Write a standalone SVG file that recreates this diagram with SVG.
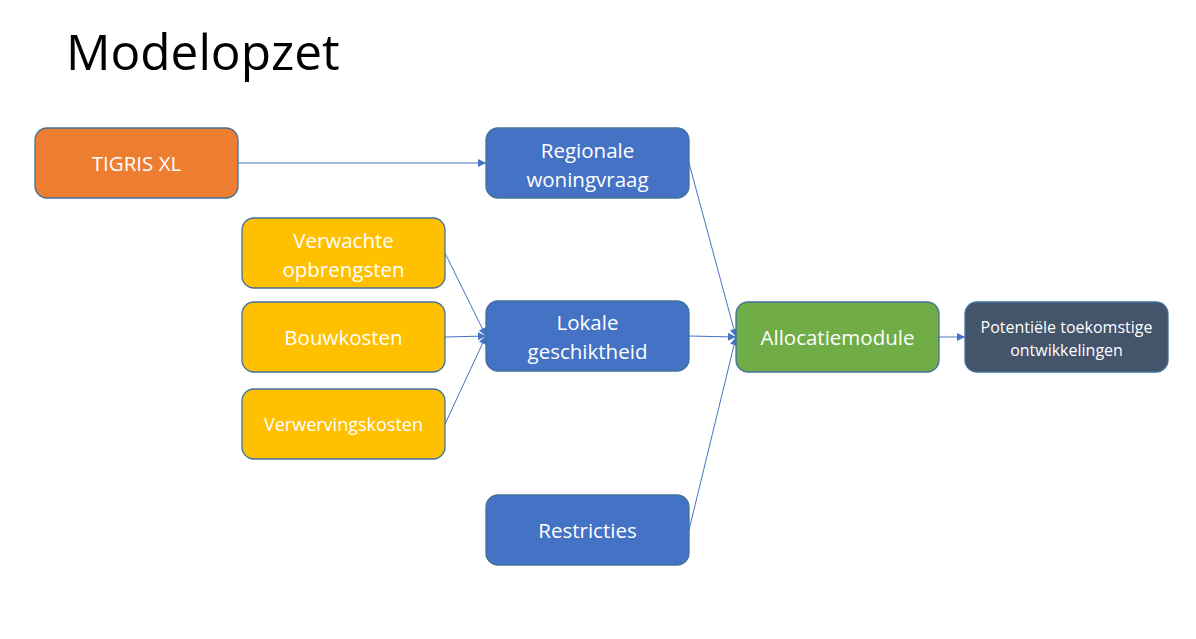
<svg xmlns="http://www.w3.org/2000/svg" width="1196" height="639" viewBox="0 0 1196 639">
<style>
.box{stroke:#41719C;stroke-width:1.3}
.t{font-family:"Open Sans","Liberation Sans",sans-serif;font-size:20.5px;fill:#fff;text-anchor:middle}
.s{font-size:16px}
.c{stroke:#4472C4;stroke-width:1;fill:none;marker-end:url(#ah)}
</style>
<defs>
<marker id="ah" viewBox="0 0 10 10" refX="10" refY="5" markerWidth="10" markerHeight="8" markerUnits="userSpaceOnUse" orient="auto">
<path d="M0,0 L10,5 L0,10 Z" fill="#4472C4"/>
</marker>
</defs>
<rect width="1196" height="639" fill="#fff"/>
<text x="66" y="70" font-family="Open Sans, Liberation Sans, sans-serif" font-size="49.5" fill="#000">Modelopzet</text>
<g id="connectors">
<line class="c" x1="238" y1="163" x2="486" y2="163"/>
<line class="c" x1="445" y1="253" x2="486" y2="336"/>
<line class="c" x1="445" y1="337" x2="486" y2="336"/>
<line class="c" x1="445" y1="424" x2="486" y2="336"/>
<line class="c" x1="689" y1="163" x2="736" y2="337"/>
<line class="c" x1="689" y1="336" x2="736" y2="337"/>
<line class="c" x1="689" y1="530" x2="736" y2="337"/>
<line class="c" x1="939" y1="337" x2="965" y2="337"/>
</g>
<g id="tigris"><rect class="box" x="35" y="128" width="203" height="70" rx="12" fill="#ED7D31"/><text class="t" x="136.5" y="171">TIGRIS XL</text></g>
<g id="regionale"><rect class="box" x="486" y="128" width="203" height="70" rx="12" fill="#4472C4"/><text class="t" x="587.5" y="158">Regionale</text><text class="t" x="587.5" y="187">woningvraag</text></g>
<g id="verwachte"><rect class="box" x="242" y="218" width="203" height="70" rx="12" fill="#FFC000"/><text class="t" x="343.5" y="248">Verwachte</text><text class="t" x="343.5" y="277">opbrengsten</text></g>
<g id="bouwkosten"><rect class="box" x="242" y="302" width="203" height="70" rx="12" fill="#FFC000"/><text class="t" x="343.5" y="345">Bouwkosten</text></g>
<g id="verwerving"><rect class="box" x="242" y="389" width="203" height="70" rx="12" fill="#FFC000"/><text class="t" x="343.5" y="431" style="font-size:18px">Verwervingskosten</text></g>
<g id="lokale"><rect class="box" x="486" y="301" width="203" height="70" rx="12" fill="#4472C4"/><text class="t" x="587.5" y="330">Lokale</text><text class="t" x="587.5" y="359">geschiktheid</text></g>
<g id="restricties"><rect class="box" x="486" y="495" width="203" height="70" rx="12" fill="#4472C4"/><text class="t" x="587.5" y="538">Restricties</text></g>
<g id="allocatie"><rect class="box" x="736" y="302" width="203" height="70" rx="12" fill="#70AD47"/><text class="t" x="837.5" y="345">Allocatiemodule</text></g>
<g id="potentiele"><rect class="box" x="965" y="302" width="203" height="70" rx="12" fill="#44546A"/><text class="t s" x="1066.5" y="333">Potentiële toekomstige</text><text class="t s" x="1066.5" y="356">ontwikkelingen</text></g>
</svg>
